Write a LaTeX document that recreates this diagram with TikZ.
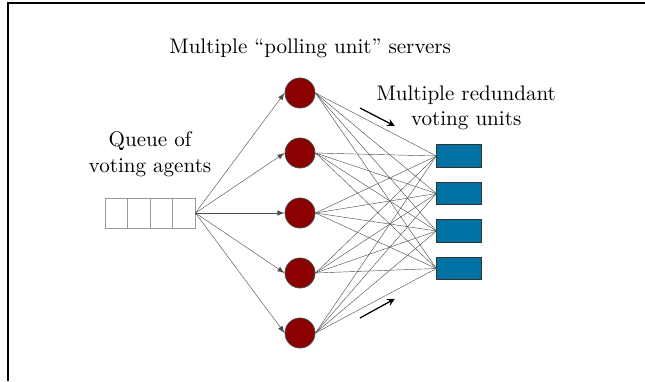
\documentclass[tikz,border=0pt]{standalone}
\usepackage{tikz}
\usetikzlibrary{calc, arrows}
\definecolor{serverred}{RGB}{139,0,0}
\definecolor{unitblue}{RGB}{0,114,163}
\tikzstyle{server}    = [circle,fill=serverred,draw=black!70,minimum size=0.5cm,inner sep=0pt]
\tikzstyle{unit}      = [rectangle,fill=unitblue,draw=black!80,minimum width=0.75cm,minimum height=0.37cm,inner sep=0pt]
\tikzstyle{cell}      = [rectangle,draw=black!40,minimum width=0.375cm,minimum height=0.5cm,inner sep=0pt]
\tikzstyle{link}      = [black!70,very thin]
\tikzstyle{arrow}     = [thick,->,>=stealth]

\begin{document}
\begin{tikzpicture}
  \useasboundingbox (0,0) rectangle (10.75,6.35);
  \draw[line width=1pt] (0.13,0) -- (0.13,6.3) -- (10.75,6.3);

  %the queue on the left
  \foreach \x in {1,2,3,4}{
    \node[cell] (q\x) at (1.75+0.375*\x-0.1875,2.8) {};
  }
  \coordinate (qout) at (q4.east);
  \node[align=center] (qlabel) at (2.5,3.78) {Queue of\\voting agents};

  %put the servers in the middle
  \foreach \y in {1,...,5}{
    \node[server] (s\y) at (5,5.8-\y) {};
  }
  \node (slabel) at (5.17,5.55) {Multiple ``polling unit'' servers};

  %put the voting units on the right
  \foreach \y in {1,...,4}{
    \node[unit] (u\y) at (7.655,4.375-0.625*\y) {};
  }
  \node[align=center] (ulabel) at (7.77,4.55) {Multiple redundant\\voting units};

  \foreach \y in {1,...,5}{
    \draw[link,-latex] (qout) -- (s\y.west);
  }
  \foreach \y in {1,...,5}{
    \foreach \z in {1,...,4}{
      \draw[link] (s\y.east) -- (u\z.west);
    }
  }

  \coordinate (a1) at (6.0,4.55);
  \coordinate (a2) at (6.58,4.25);
  \coordinate (b1) at (6.0,1.05);
  \coordinate (b2) at (6.58,1.37);
  \draw[arrow,semithick] (a1) -- (a2);
  \draw[arrow,semithick] (b1) -- (b2);
\end{tikzpicture}
\end{document}
